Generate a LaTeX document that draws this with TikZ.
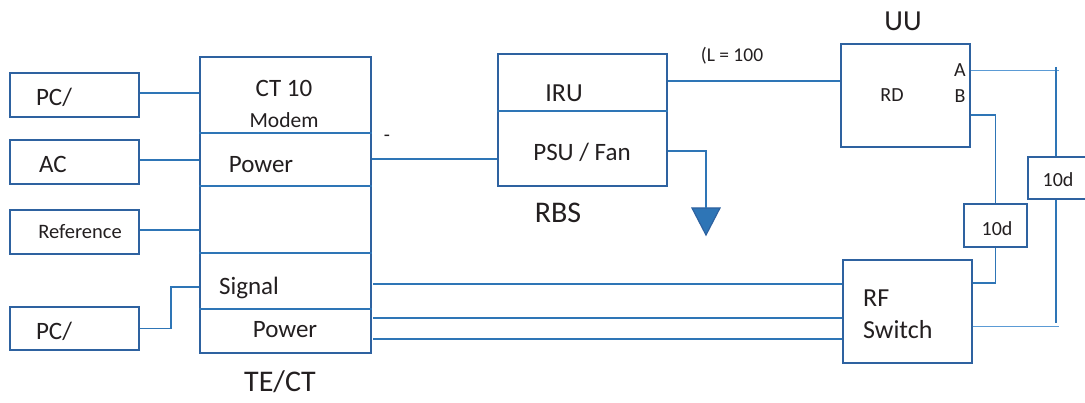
\documentclass[tikz,border=0pt]{standalone}
\usepackage{fontspec}
\setmainfont{Carlito}
\definecolor{boxc}{HTML}{2E62A0}
\definecolor{linec}{HTML}{2E75B6}
\definecolor{thinc}{HTML}{5B9BD5}
\definecolor{txt}{HTML}{231F20}
\newcommand{\fs}[1]{\fontsize{#1}{#1}\selectfont}
\tikzset{
  box/.style={draw=boxc, line width=2pt, inner sep=0pt, fill=white},
  conn/.style={draw=linec, line width=1.4pt},
  thin/.style={draw=thinc, line width=1pt},
  lbl/.style={text=txt, inner sep=0pt, anchor=center},
}
\begin{document}
\begin{tikzpicture}[x=1pt,y=-1pt]
\useasboundingbox (0,0) rectangle (1085,403);
\clip (0,0) rectangle (1085,403);
% left boxes
\node[box, minimum width=129pt, minimum height=44pt] (pc1) at (74.5,95) {};
\node[box, minimum width=129pt, minimum height=44pt] (ac) at (74.5,162) {};
\node[box, minimum width=129pt, minimum height=44pt] (ref) at (74.5,232) {};
\node[box, minimum width=129pt, minimum height=43pt] (pc2) at (74.5,328.5) {};
\node[lbl, font=\fs{25}] (tpc1) at (54,97) {PC/};
\node[lbl, font=\fs{25}] (tac) at (53,164) {AC};
\node[lbl, font=\fs{20.5}] (tref) at (80,232) {Reference};
\node[lbl, font=\fs{25}] (tpc2) at (54,331) {PC/};
% TE/CT
\node[box, minimum width=171pt, minimum height=296pt] (tect) at (285.5,205) {};
\coordinate (d1y) at (0,133);
\coordinate (d2y) at (0,186);
\coordinate (d3y) at (0,253);
\coordinate (d4y) at (0,309);
\foreach \c in {d1y,d2y,d3y,d4y}{\draw[draw=linec, line width=1.8pt] (tect.west |- \c) -- (tect.east |- \c);}
\node[lbl, font=\fs{25}] (tct) at (284,88) {CT 10};
\node[lbl, font=\fs{21.5}] (tmod) at (284,120) {Modem};
\node[lbl, font=\fs{25}] (tpow1) at (261,165) {Power};
\node[lbl, font=\fs{25}] (tsig) at (249,288) {Signal};
\node[lbl, font=\fs{25}] (tpow2) at (285,330) {Power};
\node[lbl, font=\fs{30}] (ttect) at (280,382) {TE/CT};
% RBS
\node[box, minimum width=169pt, minimum height=132pt] (rbs) at (582.5,120) {};
\coordinate (rby) at (0,111);
\draw[draw=linec, line width=1.8pt] (rbs.west |- rby) -- (rbs.east |- rby);
\node[lbl, font=\fs{26}] (tiru) at (564,93) {IRU};
\node[lbl, font=\fs{25}] (tpsu) at (582,152) {PSU / Fan};
\node[lbl, font=\fs{30}] (trbs) at (558,213) {RBS};
\node[lbl, font=\fs{20}] (tdash) at (387,138) {-};
% ground
\coordinate (gnd) at (706,208);
\draw[fill=linec, draw=boxc, line width=1.2pt] (692,208) -- (720,208) -- (706,235) -- cycle;
% RD / UU
\node[box, minimum width=129pt, minimum height=103pt] (rd) at (905.5,95.5) {};
\node[lbl, font=\fs{29}] (tuu) at (903,21) {UU};
\node[lbl, font=\fs{19.5}] (tl) at (732,56) {(L = 100};
\node[lbl, font=\fs{20}] (trd) at (892,95) {RD};
\node[lbl, font=\fs{20}] (ta) at (960,70) {A};
\node[lbl, font=\fs{20}] (tb) at (960,96) {B};
% RF switch
\node[box, minimum width=129pt, minimum height=103pt] (rf) at (907.5,311.5) {};
\node[lbl, font=\fs{26}, anchor=west] (trf) at (863,298) {RF};
\node[lbl, font=\fs{26}, anchor=west] (tsw) at (863,330) {Switch};
% 10d boxes
\node[box, minimum width=63pt, minimum height=43pt] (da) at (995.5,225.5) {};
\node[lbl, font=\fs{20}] (tda) at (997,229) {10d};
\node[box, minimum width=62pt, minimum height=42pt] (db) at (1059,178) {};
\node[lbl, font=\fs{20}] (tdb) at (1058,180) {10d};
% level coordinates
\coordinate (y93) at (0,93);
\coordinate (y160) at (0,160);
\coordinate (y230) at (0,230);
\coordinate (y287) at (0,287);
\coordinate (y159) at (0,159);
\coordinate (y81) at (0,81);
\coordinate (y151) at (0,151);
\coordinate (y115) at (0,115);
\coordinate (y283) at (0,283);
\coordinate (y284) at (0,284);
\coordinate (y318) at (0,318);
\coordinate (y339) at (0,339);
\coordinate (kink) at (171,287);
\coordinate (vx) at (1056,0);
\coordinate (aend) at (1059,71);
\coordinate (vtop) at (1056,67);
\coordinate (vbot) at (1056,323);
\coordinate (bend) at (1059,327);
\coordinate (sx) at (373,0);
% connectors left
\draw[conn] (pc1.east |- y93) -- (tect.west |- y93);
\draw[conn] (ac.east |- y160) -- (tect.west |- y160);
\draw[conn] (ref.east |- y230) -- (tect.west |- y230);
\draw[conn] (pc2.east) -| (kink) -- (tect.west |- y287);
% TE/CT to RBS
\draw[conn] (tect.east |- y159) -- (rbs.west |- y159);
\draw[conn] (rbs.east |- y81) -- (rd.west |- y81);
\draw[conn] (rbs.east |- y151) -| (gnd);
% TE/CT to RF
\draw[conn] (sx |- y284) -- (rf.west |- y284);
\draw[conn] (sx |- y318) -- (rf.west |- y318);
\draw[conn] (sx |- y339) -- (rf.west |- y339);
% right side
\draw[thin] (rd.east |- aend) -- (aend);
\draw[conn] (vtop) -- (vx |- db.north);
\draw[conn] (vx |- db.south) -- (vbot);
\draw[thin] (rf.east |- bend) -- (bend);
\draw[conn] (rd.east |- y115) -| (da.north);
\draw[conn] (da.south) |- (rf.east |- y283);
\end{tikzpicture}
\end{document}
